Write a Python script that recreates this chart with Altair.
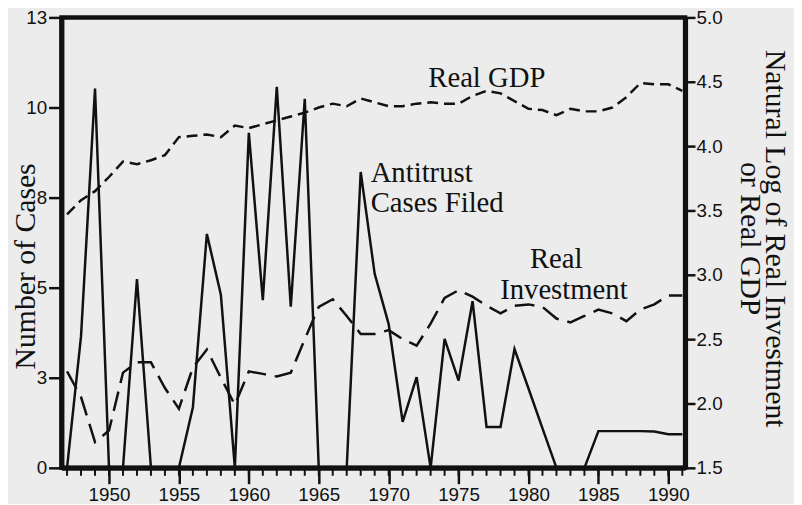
import altair as alt
import pandas as pd

# ---------------- data ----------------
years = list(range(1947, 1992))

cases = [0, 3.8, 10.95, 0, 0, 5.45, 0, 0, 0, 1.75,
         6.75, 5.0, 0, 9.67, 4.84, 11.0, 4.65, 10.65, 0, 0,
         0, 8.54, 5.6, 4.15, 1.33, 2.62, 0, 3.72, 2.52, 4.81,
         1.18, 1.18, 3.43, 2.29, 1.14, 0, 0, 0, 1.06, 1.06,
         1.06, 1.06, 1.05, 0.97, 0.97]

real_gdp = [3.47, 3.58, 3.65, 3.76, 3.88, 3.86, 3.89, 3.93, 4.07, 4.08,
            4.09, 4.07, 4.16, 4.14, 4.17, 4.20, 4.23, 4.26, 4.30, 4.33,
            4.31, 4.37, 4.34, 4.31, 4.31, 4.33, 4.34, 4.33, 4.33, 4.39,
            4.43, 4.41, 4.35, 4.29, 4.28, 4.24, 4.29, 4.27, 4.27, 4.30,
            4.38, 4.49, 4.48, 4.48, 4.43]

real_investment = [2.25, 2.05, 1.70, 1.79, 2.24, 2.32, 2.32, 2.12, 1.96, 2.28,
                   2.42, 2.20, 1.99, 2.25, 2.23, 2.21, 2.24, 2.50, 2.75, 2.81,
                   2.68, 2.54, 2.54, 2.57, 2.50, 2.45, 2.62, 2.82, 2.88, 2.83,
                   2.76, 2.70, 2.76, 2.77, 2.75, 2.66, 2.63, 2.68, 2.73, 2.70,
                   2.64, 2.73, 2.77, 2.84, 2.84]

series_names = ["Real GDP", "Real Investment"]

x_ticks = [1950, 1955, 1960, 1965, 1970, 1975, 1980, 1985, 1990]
minor_years = list(range(1947, 1992))
left_ticks = [0, 2.6, 5.2, 7.8, 10.4, 13]
right_ticks = [1.5, 2.0, 2.5, 3.0, 3.5, 4.0, 4.5, 5.0]

ann_left_text = ["Antitrust", "Cases Filed"]
ann_left_year = [1968.71, 1968.71]
ann_left_val = [8.25, 7.37]

ann_center_text = ["Real GDP", "Real", "Investment"]
ann_center_year = [1977.02, 1981.98, 1982.53]
ann_center_val = [11.0, 5.78, 4.88]

# ---------------- tables ----------------
cases_df = pd.DataFrame({"year": years, "cases": cases})
n = len(years)
series_df = pd.DataFrame({
    "year": years + years,
    "value": real_gdp + real_investment,
    "series": [series_names[0]] * n + [series_names[1]] * n,
})
minor_df = pd.DataFrame({"year": minor_years})
ann_left_df = pd.DataFrame({"year": ann_left_year, "cases": ann_left_val, "label": ann_left_text})
ann_center_df = pd.DataFrame({"year": ann_center_year, "cases": ann_center_val, "label": ann_center_text})

INK = "#111111"
SERIF = "Liberation Serif"
SANS = "Liberation Sans"

X = alt.X(
    "year:Q",
    scale=alt.Scale(domain=[1946.6, 1991.2], nice=False, zero=False),
    axis=alt.Axis(values=x_ticks, format="d", ticks=True, tickSize=16, tickWidth=2.5,
                  labelPadding=2, title=None),
)

left_axis = alt.Axis(
    orient="left", values=left_ticks, labelExpr="round(datum.value)",
    ticks=True, tickSize=13, tickWidth=2.5, labelPadding=2,
    title="Number of Cases", titleX=-27, titleY=251, titleAngle=270,
    titleAlign="center", titleBaseline="alphabetic",
    titleFont=SERIF, titleFontSize=30, titleFontWeight="normal", titleColor=INK,
)
left_scale = alt.Scale(domain=[0, 13], nice=False, zero=False)

right_axis = alt.Axis(
    orient="right", values=right_ticks, format=".1f",
    ticks=True, tickSize=10, tickWidth=2.5, labelPadding=1,
    title=["Natural Log of Real Investment", "or Real GDP"],
    titleX=81, titleY=223, titleAngle=90, titleAlign="center",
    titleBaseline="alphabetic", titleLineHeight=25,
    titleFont=SERIF, titleFontSize=30, titleFontWeight="normal", titleColor=INK,
)

minor = alt.Chart(minor_df).mark_rule(color=INK, strokeWidth=2).encode(
    x=X, y=alt.value(455), y2=alt.value(463)
)

cases_line = alt.Chart(cases_df).mark_line(color=INK, strokeWidth=2.5).encode(
    x=X, y=alt.Y("cases:Q", scale=left_scale, axis=left_axis)
)

text_left = alt.Chart(ann_left_df).mark_text(
    font=SERIF, fontSize=29, color=INK, align="left", baseline="alphabetic"
).encode(x=X, y=alt.Y("cases:Q", scale=left_scale, axis=left_axis), text="label:N")

text_center = alt.Chart(ann_center_df).mark_text(
    font=SERIF, fontSize=29, color=INK, align="center", baseline="alphabetic"
).encode(x=X, y=alt.Y("cases:Q", scale=left_scale, axis=left_axis), text="label:N")

series_line = alt.Chart(series_df).mark_line(color=INK, strokeWidth=2.5).encode(
    x=X,
    y=alt.Y("value:Q", scale=alt.Scale(domain=[1.5, 5.0], nice=False, zero=False), axis=right_axis),
    strokeDash=alt.StrokeDash(
        "series:N",
        scale=alt.Scale(domain=series_names, range=[[11, 6], [20, 9]]),
        legend=None,
    ),
    detail="series:N",
)

left_layer = alt.layer(minor, cases_line, text_left, text_center)

chart = (
    alt.layer(left_layer, series_line)
    .resolve_scale(y="independent")
    .properties(
        width=630,
        height=455,
        padding={"left": 54, "top": 7, "right": 110, "bottom": 34},
        autosize=alt.AutoSizeParams(type="none"),
        background="#ececec",
    )
    .configure_axis(
        grid=False,
        domainColor=INK,
        domainWidth=5,
        tickColor=INK,
        labelColor=INK,
        labelFont=SANS,
        labelFontSize=19,
        labelFontWeight="normal",
    )
    .configure_view(stroke=INK, strokeWidth=4.5)
)

chart.save("out.html", embed_options={"renderer": "svg", "actions": False})
